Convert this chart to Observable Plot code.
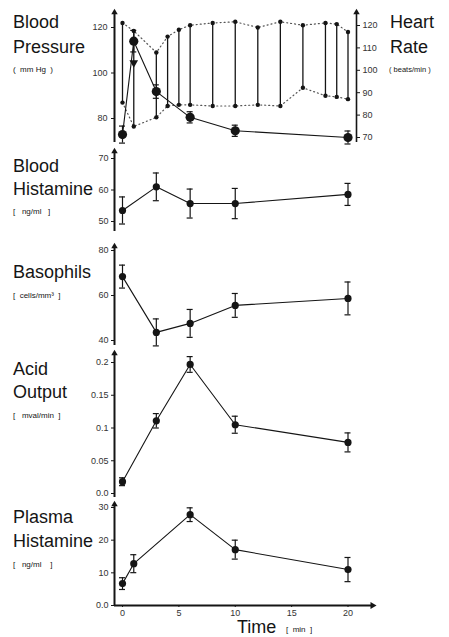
<!DOCTYPE html>
<html><head><meta charset="utf-8">
<script src="https://cdn.jsdelivr.net/npm/d3@7"></script>
<script src="https://cdn.jsdelivr.net/npm/@observablehq/plot@0.6"></script>
<style>
html,body{margin:0;padding:0;background:#fff;}
#chart{position:relative;width:449px;height:637px;overflow:hidden;font-family:"Liberation Sans",Arial,sans-serif;}
</style></head><body><div id="chart"></div>
<script>
// ---------------- DATA ----------------
// Panel 1: blood pressure bars (systolic/diastolic, mm Hg) and heart rate (beats/min)
const bpTimes   = [0, 1, 3, 4, 5, 6, 8, 10, 12, 14, 16, 18, 19, 20];
const systolic  = [122, 118.5, 109, 116, 119, 121, 122, 122.5, 120, 122.5, 121, 122, 121.5, 118];
const diastolic = [87, 76.5, 80.5, 85.5, 86, 86, 85.5, 85.5, 86, 85.5, 93.5, 90, 89.5, 88.5];
const hrTimes = [0, 1, 3, 6, 10, 20];
const heartRate = [71.3, 113, 90.5, 79, 73, 70];
const heartRateErr = [3.8, 4.8, 3, 2.5, 2.5, 2.9];
const markerTimes = [1];
const markerBp = [104.5];
const bpTicks = [80, 100, 120];
const hrTicks = [70, 80, 90, 100, 110, 120];

// Panel 2: blood histamine (ng/ml)
const bhTimes = [0, 3, 6, 10, 20];
const bloodHist = [53.5, 61, 55.7, 55.7, 58.6];
const bloodHistErr = [4.3, 4.4, 4.6, 4.8, 3.5];
const bhTicks = [50, 60, 70];

// Panel 3: basophils (cells/mm3)
const basTimes = [0, 3, 6, 10, 20];
const basophils = [68.4, 43.6, 47.6, 55.6, 58.7];
const basophilsErr = [5.1, 6, 6.2, 5.3, 7.3];
const basTicks = [40, 60, 80];

// Panel 4: acid output (mval/min)
const acidTimes = [0, 3, 6, 10, 20];
const acidOutput = [0.018, 0.111, 0.197, 0.105, 0.078];
const acidOutputErr = [0.006, 0.011, 0.012, 0.013, 0.0145];
const acidTicks = [0, 0.05, 0.1, 0.15, 0.2];
const acidTickLabels = ["0.0", "0.05", "0.1", "0.15", "0.2"];

// Panel 5: plasma histamine (ng/ml)
const phTimes = [0, 1, 6, 10, 20];
const plasmaHist = [6.7, 12.8, 27.8, 17.1, 11];
const plasmaHistErr = [1.8, 2.75, 2.1, 2.9, 3.7];
const phTicks = [0, 10, 20, 30];
const phTickLabels = ["0.0", "10", "20", "30"];

const timeTicks = [0, 5, 10, 15, 20];

// ---------------- LAYOUT ----------------
const W = 449;
const X0 = 122, PXMIN = 11.275;     // pixel of t=0, pixels per minute
const INK = "#151515";
const CAPPX = 3;                    // half width of error-bar caps in px
const chart = document.getElementById("chart");

function xDomain(L, R) { return [(L - X0) / PXMIN, (R - X0) / PXMIN]; }
function pxFrom(a, v) { return a[1] + (v - a[0]) * (a[3] - a[1]) / (a[2] - a[0]); }
function valFrom(a, p) { return a[0] + (p - a[1]) * (a[2] - a[0]) / (a[3] - a[1]); }

// anchors: [value1, px1, value2, px2] (page pixels)
const bpAnch = [80, 118, 120, 27];
const hrAnch = [70, 137, 120, 25];
const hrToBp = h => valFrom(bpAnch, pxFrom(hrAnch, h));
const bpToHr = b => valFrom(hrAnch, pxFrom(bpAnch, b));

function rows(t, v, e) { return t.map((d, i) => ({t: d, v: v[i], e: e ? e[i] : 0})); }

function seriesMarks(data, r) {
  const cap = CAPPX / PXMIN;
  return [
    Plot.line(data, {x: "t", y: "v", stroke: INK, strokeWidth: 1.1}),
    Plot.ruleX(data, {x: "t", y1: d => d.v - d.e, y2: d => d.v + d.e, stroke: INK, strokeWidth: 1.2}),
    Plot.ruleY(data, {y: d => d.v + d.e, x1: d => d.t - cap, x2: d => d.t + cap, stroke: INK, strokeWidth: 1.2}),
    Plot.ruleY(data, {y: d => d.v - d.e, x1: d => d.t - cap, x2: d => d.t + cap, stroke: INK, strokeWidth: 1.2}),
    Plot.dot(data, {x: "t", y: "v", r, fill: INK})
  ];
}

function leftAxisMarks(xd, ticks, fmt) {
  return [
    Plot.ruleX([xd[0]], {stroke: INK, strokeWidth: 2}),
    Plot.dot([0], {frameAnchor: "top-left", symbol: "triangle", r: 2.4, fill: INK}),
    Plot.axisY({anchor: "left", ticks, tickFormat: fmt, tickSize: 3, tickPadding: 3,
      fontSize: 9, fill: "#333", stroke: INK, label: null})
  ];
}

function panel({top, height, plotTop, plotBottom, left = 114, right = 356, anch, marks, showX = false}) {
  const xd = xDomain(left, right);
  const yd = [valFrom(anch, plotBottom), valFrom(anch, plotTop)];
  const svg = Plot.plot({
    width: W, height,
    marginLeft: left, marginRight: W - right,
    marginTop: plotTop - top, marginBottom: top + height - plotBottom,
    x: showX ? {domain: xd} : {domain: xd, axis: null},
    y: {domain: yd},
    style: {fontFamily: "'Liberation Sans', Arial, sans-serif", fontSize: "9px", background: "transparent", overflow: "visible"},
    marks: marks(xd, yd)
  });
  svg.style.position = "absolute";
  svg.style.left = "0px";
  svg.style.top = top + "px";
  chart.append(svg);
}

// Panel 1: blood pressure + heart rate
const bpRows = bpTimes.map((t, i) => ({t, sys: systolic[i], dia: diastolic[i]}));
const hrRows = rows(hrTimes, heartRate.map(hrToBp), heartRateErr.map((e, i) => hrToBp(heartRate[i] + e) - hrToBp(heartRate[i])));
const markerRows = rows(markerTimes, markerBp);
panel({top: 0, height: 150, plotTop: 12, plotBottom: 142, anch: bpAnch, marks: (xd) => [
  Plot.ruleX([xd[0]], {stroke: INK, strokeWidth: 2}),
  Plot.dot([0], {frameAnchor: "top-left", symbol: "triangle", r: 2.4, fill: INK}),
  Plot.ruleX([xd[1]], {stroke: INK, strokeWidth: 1.6}),
  Plot.dot([0], {frameAnchor: "top-right", symbol: "triangle", r: 2.4, fill: INK}),
  Plot.axisY({anchor: "left", ticks: bpTicks, tickSize: 3, tickPadding: 4, fontSize: 9, fill: "#333", stroke: INK, label: null}),
  Plot.axisY({anchor: "right", ticks: hrTicks.map(hrToBp), tickFormat: d => Math.round(bpToHr(d)),
    tickSize: 3, tickPadding: 3, fontSize: 9, fill: "#333", stroke: INK, label: null}),
  Plot.line(bpRows, {x: "t", y: "sys", stroke: "#555", strokeWidth: 1.2, strokeDasharray: "1,3"}),
  Plot.line(bpRows, {x: "t", y: "dia", stroke: "#555", strokeWidth: 1.2, strokeDasharray: "1,3"}),
  Plot.ruleX(bpRows, {x: "t", y1: "dia", y2: "sys", stroke: INK, strokeWidth: 1.3}),
  Plot.dot(bpRows, {x: "t", y: "sys", r: 2.2, fill: INK}),
  Plot.dot(bpRows, {x: "t", y: "dia", r: 2.2, fill: INK}),
  Plot.dot(markerRows, {x: "t", y: "v", symbol: "triangle", rotate: 180, r: 3.2, fill: INK}),
  ...seriesMarks(hrRows, 4.6).map(m => m)
]});

// Panel 2: blood histamine
panel({top: 146, height: 92, plotTop: 151, plotBottom: 231, anch: [50, 221, 70, 158], marks: (xd) => [
  ...leftAxisMarks(xd, bhTicks),
  ...seriesMarks(rows(bhTimes, bloodHist, bloodHistErr), 3.6)
]});

// Panel 3: basophils
panel({top: 240, height: 110, plotTop: 246, plotBottom: 345, anch: [40, 340, 80, 250], marks: (xd) => [
  ...leftAxisMarks(xd, basTicks),
  ...seriesMarks(rows(basTimes, basophils, basophilsErr), 3.6)
]});

// Panel 4: acid output
panel({top: 348, height: 152, plotTop: 353, plotBottom: 497, anch: [0, 493, 0.2, 362], marks: (xd) => [
  ...leftAxisMarks(xd, acidTicks, d => acidTickLabels[acidTicks.indexOf(d)]),
  ...seriesMarks(rows(acidTimes, acidOutput, acidOutputErr), 3.6)
]});

// Panel 5: plasma histamine with time axis
panel({top: 500, height: 137, plotTop: 504, plotBottom: 605, right: 372, anch: [0, 605, 30, 507], showX: true, marks: (xd, yd) => [
  ...leftAxisMarks(xd, phTicks, d => phTickLabels[phTicks.indexOf(d)]),
  Plot.ruleY([yd[0]], {stroke: INK, strokeWidth: 2}),
  Plot.dot([0], {frameAnchor: "bottom-right", symbol: "triangle", rotate: 90, r: 2.6, fill: INK}),
  Plot.axisX({ticks: timeTicks, tickSize: 2, tickPadding: 2, fontSize: 9, fill: "#333", stroke: INK, label: null}),
  ...seriesMarks(rows(phTimes, plasmaHist, plasmaHistErr), 3.6)
]});

// ---------------- TEXT LABELS ----------------
const panelTitles = [
  {lines: ["Blood", "Pressure"], unit: "(  mm Hg  )"},
  {lines: ["Blood", "Histamine"], unit: "[   ng/ml   ]"},
  {lines: ["Basophils"], unit: "[  cells/mm³  ]"},
  {lines: ["Acid", "Output"], unit: "[   mval/min  ]"},
  {lines: ["Plasma", "Histamine"], unit: "[   ng/ml    ]"}
];
const rightTitle = {lines: ["Heart", "Rate"], unit: "( beats/min )"};
const timeTitle = "Time";
const timeUnit = "[  min  ]";

// baselines (page px)
const titleBaselines = [[28, 53], [172, 195], [278], [375, 398], [523, 547]];
const unitBaselines = [72, 214, 298, 418, 567];

const lab = d3.create("svg").attr("width", W).attr("height", 637)
  .style("position", "absolute").style("left", "0px").style("top", "0px")
  .attr("font-family", "'Liberation Sans', Arial, sans-serif").attr("fill", INK);
panelTitles.forEach((p, i) => {
  p.lines.forEach((s, j) => lab.append("text").attr("x", 13).attr("y", titleBaselines[i][j]).attr("font-size", 18).text(s));
  lab.append("text").attr("x", 13).attr("y", unitBaselines[i]).attr("font-size", 8).attr("xml:space", "preserve").style("white-space", "pre").text(p.unit);
});
rightTitle.lines.forEach((s, j) => lab.append("text").attr("x", 390).attr("y", titleBaselines[0][j]).attr("font-size", 18).text(s));
lab.append("text").attr("x", 389).attr("y", unitBaselines[0]).attr("font-size", 7.5).style("white-space", "pre").text(rightTitle.unit);
lab.append("text").attr("x", 237).attr("y", 633).attr("font-size", 18).text(timeTitle);
lab.append("text").attr("x", 286).attr("y", 632).attr("font-size", 8).style("white-space", "pre").text(timeUnit);
chart.append(lab.node());
</script>
</body></html>
